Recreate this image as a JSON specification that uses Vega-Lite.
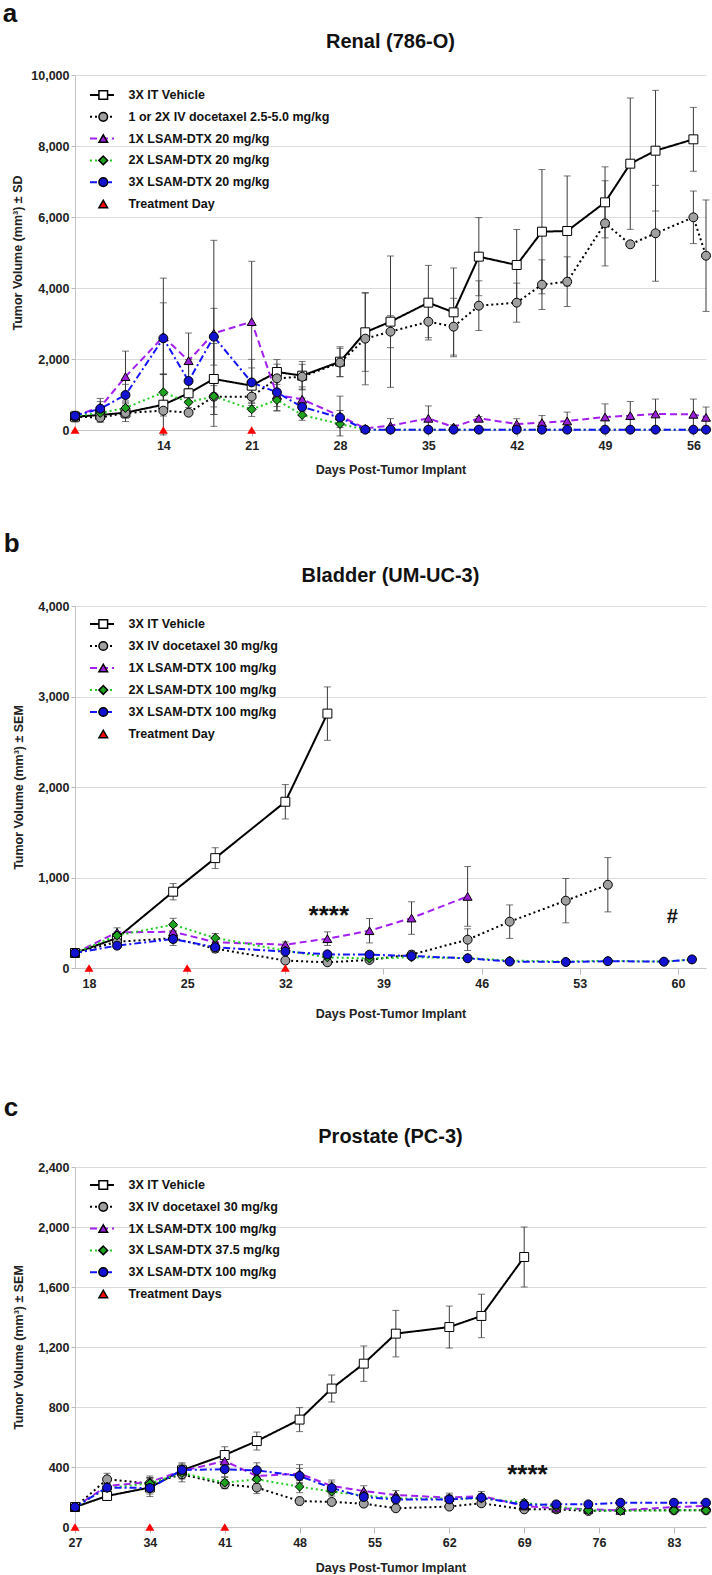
{
  "$schema": "https://vega.github.io/schema/vega-lite/v6.json",
  "padding": {"left": 2, "top": 1, "right": 0, "bottom": 0},
  "background": "white",
  "config": {
    "font": "Liberation Sans",
    "view": {"stroke": null},
    "title": {"font": "Liberation Sans", "fontSize": 20, "fontWeight": "bold", "color": "#111"},
    "axis": {"labelFont": "Liberation Sans", "labelFontWeight": "bold", "labelFontSize": 12.5, "labelColor": "#222", "titleFont": "Liberation Sans", "titleFontWeight": "bold", "titleFontSize": 12.5, "titleColor": "#222", "domainColor": "#c4c4c4", "tickColor": "#b8b8b8", "gridColor": "#dcdcdc", "labelFlush": false, "labelOverlap": false},
    "axisY": {"grid": true, "tickSize": 4, "labelPadding": 2},
    "axisX": {"grid": false, "tickSize": 6, "labelPadding": 3},
    "legend": {"labelFont": "Liberation Sans", "labelFontWeight": "bold", "labelFontSize": 12.5, "labelColor": "#111", "labelLimit": 400}
  },
  "datasets": {
    "a": [
      {"s":"V","d":7,"v":375,"e":150},{"s":"V","d":9,"v":423,"e":200},{"s":"V","d":11,"v":488,"e":250},{"s":"V","d":14,"v":713,"e":850},{"s":"V","d":16,"v":1033,"e":400},{"s":"V","d":18,"v":1437,"e":1000},{"s":"V","d":21,"v":1249,"e":500},{"s":"V","d":23,"v":1634,"e":350},{"s":"V","d":25,"v":1531,"e":400},{"s":"V","d":28,"v":1925,"e":420},{"s":"V","d":30,"v":2752,"e":1100},{"s":"V","d":32,"v":3052,"e":1850},{"s":"V","d":35,"v":3587,"e":1050},{"s":"V","d":37,"v":3314,"e":1250},{"s":"V","d":39,"v":4883,"e":1100},{"s":"V","d":42,"v":4648,"e":1000},{"s":"V","d":44,"v":5587,"e":1750},{"s":"V","d":46,"v":5606,"e":1550},{"s":"V","d":49,"v":6413,"e":1000},{"s":"V","d":51,"v":7502,"e":1850},{"s":"V","d":53,"v":7868,"e":1700},{"s":"V","d":56,"v":8188,"e":900},
      {"s":"D","d":7,"v":375,"e":100},{"s":"D","d":9,"v":350,"e":120},{"s":"D","d":11,"v":480,"e":150},{"s":"D","d":14,"v":544,"e":150},{"s":"D","d":16,"v":488},{"s":"D","d":18,"v":939,"e":500},{"s":"D","d":21,"v":939,"e":400},{"s":"D","d":23,"v":1455,"e":400},{"s":"D","d":25,"v":1500,"e":350},{"s":"D","d":28,"v":1900,"e":400},{"s":"D","d":30,"v":2573,"e":1300},{"s":"D","d":32,"v":2770,"e":450},{"s":"D","d":35,"v":3052,"e":450},{"s":"D","d":37,"v":2911,"e":800},{"s":"D","d":39,"v":3502,"e":700},{"s":"D","d":42,"v":3587,"e":550},{"s":"D","d":44,"v":4094,"e":700},{"s":"D","d":46,"v":4178,"e":700},{"s":"D","d":49,"v":5822,"e":1200},{"s":"D","d":51,"v":5231},{"s":"D","d":53,"v":5541,"e":1350},{"s":"D","d":56,"v":5991,"e":740},{"s":"D","d":57,"v":4910,"e":1570},
      {"s":"L1","d":7,"v":400,"e":100},{"s":"L1","d":9,"v":639,"e":250},{"s":"L1","d":11,"v":1502,"e":720},{"s":"L1","d":14,"v":2628,"e":1650},{"s":"L1","d":16,"v":1952,"e":780},{"s":"L1","d":18,"v":2723,"e":2620},{"s":"L1","d":21,"v":3052,"e":1700},{"s":"L1","d":23,"v":986,"e":450},{"s":"L1","d":25,"v":865,"e":350},{"s":"L1","d":28,"v":394,"e":560},{"s":"L1","d":30,"v":47,"e":50},{"s":"L1","d":32,"v":122,"e":200},{"s":"L1","d":35,"v":329,"e":350},{"s":"L1","d":37,"v":85,"e":60},{"s":"L1","d":39,"v":329,"e":50},{"s":"L1","d":42,"v":169,"e":150},{"s":"L1","d":44,"v":207,"e":200},{"s":"L1","d":46,"v":254,"e":250},{"s":"L1","d":49,"v":366,"e":370},{"s":"L1","d":51,"v":404,"e":400},{"s":"L1","d":53,"v":451,"e":420},{"s":"L1","d":56,"v":441,"e":430},{"s":"L1","d":57,"v":357,"e":290},
      {"s":"L2","d":7,"v":400,"e":100},{"s":"L2","d":9,"v":480,"e":150},{"s":"L2","d":11,"v":620,"e":200},{"s":"L2","d":14,"v":1061,"e":500},{"s":"L2","d":16,"v":780,"e":250},{"s":"L2","d":18,"v":950,"e":300},{"s":"L2","d":21,"v":582,"e":200},{"s":"L2","d":23,"v":845,"e":300},{"s":"L2","d":25,"v":423,"e":150},{"s":"L2","d":28,"v":169,"e":100},{"s":"L2","d":30,"v":10},{"s":"L2","d":32,"v":10},{"s":"L2","d":35,"v":10},{"s":"L2","d":37,"v":10},{"s":"L2","d":39,"v":10},{"s":"L2","d":42,"v":10},{"s":"L2","d":44,"v":10},{"s":"L2","d":46,"v":10},{"s":"L2","d":49,"v":10},{"s":"L2","d":51,"v":10},{"s":"L2","d":53,"v":10},{"s":"L2","d":56,"v":10},{"s":"L2","d":57,"v":10},
      {"s":"L3","d":7,"v":400,"e":100},{"s":"L3","d":9,"v":600,"e":200},{"s":"L3","d":11,"v":986,"e":300},{"s":"L3","d":14,"v":2583,"e":1000},{"s":"L3","d":16,"v":1380,"e":600},{"s":"L3","d":18,"v":2628,"e":800},{"s":"L3","d":21,"v":1340,"e":650},{"s":"L3","d":23,"v":1061,"e":400},{"s":"L3","d":25,"v":648,"e":250},{"s":"L3","d":28,"v":350,"e":200},{"s":"L3","d":30,"v":10},{"s":"L3","d":32,"v":10},{"s":"L3","d":35,"v":10},{"s":"L3","d":37,"v":10},{"s":"L3","d":39,"v":10},{"s":"L3","d":42,"v":10},{"s":"L3","d":44,"v":10},{"s":"L3","d":46,"v":10},{"s":"L3","d":49,"v":10},{"s":"L3","d":51,"v":10},{"s":"L3","d":53,"v":10},{"s":"L3","d":56,"v":10},{"s":"L3","d":57,"v":10},
      {"s":"T","d":7,"v":0},{"s":"T","d":14,"v":0},{"s":"T","d":21,"v":0}
    ],
    "b": [
      {"s":"V","d":17,"v":166,"e":15},{"s":"V","d":20,"v":331,"e":60},{"s":"V","d":24,"v":843,"e":90},{"s":"V","d":27,"v":1214,"e":115},{"s":"V","d":32,"v":1837,"e":190},{"s":"V","d":35,"v":2811,"e":295},
      {"s":"D","d":17,"v":166,"e":15},{"s":"D","d":20,"v":290,"e":40},{"s":"D","d":24,"v":329,"e":80},{"s":"D","d":27,"v":214,"e":40},{"s":"D","d":32,"v":82,"e":20},{"s":"D","d":35,"v":63,"e":15},{"s":"D","d":38,"v":89,"e":20},{"s":"D","d":41,"v":148,"e":40},{"s":"D","d":45,"v":313,"e":120},{"s":"D","d":48,"v":512,"e":185},{"s":"D","d":52,"v":744,"e":245},{"s":"D","d":55,"v":920,"e":300},
      {"s":"L1","d":17,"v":166,"e":15},{"s":"L1","d":20,"v":394,"e":50},{"s":"L1","d":24,"v":401,"e":60},{"s":"L1","d":27,"v":284,"e":40},{"s":"L1","d":32,"v":258,"e":30},{"s":"L1","d":35,"v":324,"e":75},{"s":"L1","d":38,"v":412,"e":135},{"s":"L1","d":41,"v":552,"e":180},{"s":"L1","d":45,"v":791,"e":330},
      {"s":"L2","d":17,"v":166,"e":15},{"s":"L2","d":20,"v":360,"e":40},{"s":"L2","d":24,"v":479,"e":70},{"s":"L2","d":27,"v":331,"e":50},{"s":"L2","d":32,"v":192,"e":30},{"s":"L2","d":35,"v":118,"e":20},{"s":"L2","d":38,"v":105,"e":20},{"s":"L2","d":41,"v":118,"e":20},{"s":"L2","d":45,"v":110,"e":20},{"s":"L2","d":48,"v":82,"e":15},{"s":"L2","d":52,"v":71,"e":12},{"s":"L2","d":55,"v":80,"e":12},{"s":"L2","d":59,"v":70,"e":25},{"s":"L2","d":61,"v":93,"e":35},
      {"s":"L3","d":17,"v":166},{"s":"L3","d":20,"v":247,"e":30},{"s":"L3","d":24,"v":320,"e":40},{"s":"L3","d":27,"v":229,"e":30},{"s":"L3","d":32,"v":181,"e":25},{"s":"L3","d":35,"v":151,"e":20},{"s":"L3","d":38,"v":148,"e":20},{"s":"L3","d":41,"v":132,"e":20},{"s":"L3","d":45,"v":107,"e":15},{"s":"L3","d":48,"v":71,"e":12},{"s":"L3","d":52,"v":66,"e":10},{"s":"L3","d":55,"v":75,"e":12},{"s":"L3","d":59,"v":70,"e":20},{"s":"L3","d":61,"v":95,"e":30},
      {"s":"T","d":18,"v":0},{"s":"T","d":25,"v":0},{"s":"T","d":32,"v":0}
    ],
    "c": [
      {"s":"V","d":27,"v":133,"e":10},{"s":"V","d":30,"v":207,"e":30},{"s":"V","d":34,"v":263,"e":60},{"s":"V","d":37,"v":378,"e":50},{"s":"V","d":41,"v":480,"e":55},{"s":"V","d":44,"v":573,"e":60},{"s":"V","d":48,"v":716,"e":80},{"s":"V","d":51,"v":923,"e":90},{"s":"V","d":54,"v":1089,"e":118},{"s":"V","d":57,"v":1289,"e":155},{"s":"V","d":62,"v":1333,"e":140},{"s":"V","d":65,"v":1407,"e":145},{"s":"V","d":69,"v":1800,"e":200},
      {"s":"D","d":27,"v":133},{"s":"D","d":30,"v":318,"e":40},{"s":"D","d":34,"v":290,"e":40},{"s":"D","d":37,"v":351,"e":50},{"s":"D","d":41,"v":285,"e":30},{"s":"D","d":44,"v":263,"e":40},{"s":"D","d":48,"v":173,"e":25},{"s":"D","d":51,"v":167,"e":20},{"s":"D","d":54,"v":156,"e":20},{"s":"D","d":57,"v":125,"e":15},{"s":"D","d":62,"v":136,"e":15},{"s":"D","d":65,"v":158,"e":20},{"s":"D","d":69,"v":118,"e":15},{"s":"D","d":72,"v":118,"e":12},{"s":"D","d":75,"v":107,"e":12},{"s":"D","d":78,"v":111,"e":12},{"s":"D","d":83,"v":111,"e":12},{"s":"D","d":86,"v":111,"e":12},
      {"s":"L1","d":27,"v":133},{"s":"L1","d":30,"v":273,"e":40},{"s":"L1","d":34,"v":300,"e":40},{"s":"L1","d":37,"v":373,"e":40},{"s":"L1","d":41,"v":440,"e":50},{"s":"L1","d":44,"v":340,"e":50},{"s":"L1","d":48,"v":356,"e":60},{"s":"L1","d":51,"v":273,"e":40},{"s":"L1","d":54,"v":240,"e":35},{"s":"L1","d":57,"v":213,"e":30},{"s":"L1","d":62,"v":196,"e":30},{"s":"L1","d":65,"v":207,"e":30},{"s":"L1","d":69,"v":140,"e":30},{"s":"L1","d":72,"v":125,"e":15},{"s":"L1","d":75,"v":118,"e":12},{"s":"L1","d":78,"v":111,"e":12},{"s":"L1","d":83,"v":133,"e":15},{"s":"L1","d":86,"v":140,"e":15},
      {"s":"L2","d":27,"v":133},{"s":"L2","d":30,"v":260,"e":30},{"s":"L2","d":34,"v":290,"e":40},{"s":"L2","d":37,"v":360,"e":40},{"s":"L2","d":41,"v":296,"e":35},{"s":"L2","d":44,"v":318,"e":40},{"s":"L2","d":48,"v":269,"e":40},{"s":"L2","d":51,"v":236,"e":30},{"s":"L2","d":54,"v":210,"e":30},{"s":"L2","d":57,"v":191,"e":25},{"s":"L2","d":62,"v":189,"e":25},{"s":"L2","d":65,"v":191,"e":25},{"s":"L2","d":69,"v":162,"e":20},{"s":"L2","d":72,"v":136,"e":15},{"s":"L2","d":75,"v":111},{"s":"L2","d":78,"v":107},{"s":"L2","d":83,"v":111},{"s":"L2","d":86,"v":111},
      {"s":"L3","d":27,"v":133},{"s":"L3","d":30,"v":263,"e":30},{"s":"L3","d":34,"v":260,"e":40},{"s":"L3","d":37,"v":380,"e":40},{"s":"L3","d":41,"v":385,"e":50},{"s":"L3","d":44,"v":378,"e":50},{"s":"L3","d":48,"v":340,"e":50},{"s":"L3","d":51,"v":260,"e":40},{"s":"L3","d":54,"v":200,"e":30},{"s":"L3","d":57,"v":184,"e":25},{"s":"L3","d":62,"v":184,"e":25},{"s":"L3","d":65,"v":196,"e":25},{"s":"L3","d":69,"v":147,"e":20},{"s":"L3","d":72,"v":151,"e":15},{"s":"L3","d":75,"v":151,"e":15},{"s":"L3","d":78,"v":162,"e":15},{"s":"L3","d":83,"v":162,"e":15},{"s":"L3","d":86,"v":162,"e":15},
      {"s":"T","d":27,"v":0},{"s":"T","d":34,"v":0},{"s":"T","d":41,"v":0}
    ],
    "annB": [{"d":35.1,"v":571,"t":"****"},{"d":59.6,"v":560,"t":"#"}],
    "annC": [{"d":69.3,"v":345,"t":"****"}]
  },
  "resolve": {"scale": {"fill":"independent","shape":"independent","stroke":"independent","strokeDash":"independent"}, "legend": {"fill":"independent","shape":"independent","stroke":"independent","strokeDash":"independent"}},
  "spacing": 55,
  "vconcat": [
    {
      "title": {"text": "a", "anchor": "start", "fontSize": 26, "frame": "bounds", "offset": 5, "dx": -9},
      "resolve": {"scale": {"fill":"independent","shape":"independent","stroke":"independent","strokeDash":"independent"}, "legend": {"fill":"independent","shape":"independent","stroke":"independent","strokeDash":"independent"}},
      "vconcat": [
        {
          "width": 631, "height": 355,
          "title": {"text": "Renal (786-O)", "offset": 17},
          "data": {"name": "a"},
          "encoding": {
            "x": {"field": "d", "type": "quantitative", "scale": {"domain": [7, 57], "nice": false, "zero": false}, "axis": {"values": [14,21,28,35,42,49,56], "title": "Days Post-Tumor Implant", "titlePadding": 12}},
            "y": {"field": "v", "type": "quantitative", "scale": {"domain": [0, 10000], "nice": false}, "axis": {"values": [0,2000,4000,6000,8000,10000], "format": ",.0f", "title": "Tumor Volume (mm³) ± SD", "titlePadding": 6}}
          },
          "layer": [
            {"transform": [{"filter": "isValid(datum.e) && datum.s !== 'T'"}], "mark": {"type": "errorbar", "ticks": true, "size": 7, "thickness": 1, "color": "#3a3a3a"}, "encoding": {"yError": {"field": "e"}}},
            {"transform": [{"filter": "datum.s !== 'T'"}], "mark": {"type": "line", "strokeWidth": 2},
             "encoding": {
               "stroke": {"field": "s", "type": "nominal", "scale": {"domain": ["V","D","L1","L2","L3"], "range": ["#000000","#000000","#a21ff0","#22cc22","#1414ff"]}, "legend": {"orient": "none", "legendX": 14, "legendY": 12, "title": null, "symbolType": "stroke", "symbolSize": 576, "symbolStrokeWidth": 2, "labelExpr": "''", "clipHeight": 16, "rowPadding": 5.8, "padding": 0}},
               "strokeDash": {"field": "s", "type": "nominal", "scale": {"domain": ["V","D","L1","L2","L3"], "range": [[1,0],[2,3],[7,4],[2,3],[7,3,2,3]]}, "legend": {"orient": "none", "legendX": 14, "legendY": 12, "title": null, "symbolType": "stroke", "symbolSize": 576, "symbolStrokeWidth": 2, "labelExpr": "''", "clipHeight": 16, "rowPadding": 5.8, "padding": 0}}
             }},
            {"mark": {"type": "point", "filled": true, "opacity": 1, "size": 80, "strokeWidth": 1},
             "encoding": {
               "stroke": {"condition": {"test": "datum.s === 'T'", "value": null}, "value": "#000000"},
               "fill": {"field": "s", "type": "nominal", "scale": {"domain": ["V","D","L1","L2","L3","T"], "range": ["#ffffff","#a0a0a0","#9a1fd6","#1ea31e","#1212d0","#ff0000"]}, "legend": {"orient": "none", "legendX": 22, "legendY": 12, "title": null, "symbolSize": 75, "labelOffset": 19, "clipHeight": 16, "rowPadding": 5.8, "padding": 0, "encode": {"symbols": {"update": {"stroke": {"signal": "datum.value === 'T' ? 'transparent' : '#000000'"}, "strokeWidth": {"value": 1}}}}, "labelExpr": "{'V':'3X IT Vehicle','D':'1 or 2X IV docetaxel 2.5-5.0 mg/kg','L1':'1X LSAM-DTX 20 mg/kg','L2':'2X LSAM-DTX 20 mg/kg','L3':'3X LSAM-DTX 20 mg/kg','T':'Treatment Day'}[datum.value]"}},
               "shape": {"field": "s", "type": "nominal", "scale": {"domain": ["V","D","L1","L2","L3","T"], "range": ["square","circle","triangle-up","diamond","circle","triangle-up"]}, "legend": {"orient": "none", "legendX": 22, "legendY": 12, "title": null, "symbolSize": 75, "labelOffset": 19, "clipHeight": 16, "rowPadding": 5.8, "padding": 0, "encode": {"symbols": {"update": {"stroke": {"signal": "datum.value === 'T' ? 'transparent' : '#000000'"}, "strokeWidth": {"value": 1}}}}, "labelExpr": "{'V':'3X IT Vehicle','D':'1 or 2X IV docetaxel 2.5-5.0 mg/kg','L1':'1X LSAM-DTX 20 mg/kg','L2':'2X LSAM-DTX 20 mg/kg','L3':'3X LSAM-DTX 20 mg/kg','T':'Treatment Day'}[datum.value]"}}
             }}
          ]
        }
      ]
    },
    {
      "resolve": {"scale": {"fill":"independent","shape":"independent","stroke":"independent","strokeDash":"independent"}, "legend": {"fill":"independent","shape":"independent","stroke":"independent","strokeDash":"independent"}},
      "spacing": 75,
      "vconcat": [
        {
          "title": {"text": "b", "anchor": "start", "fontSize": 26, "frame": "bounds", "offset": 9, "dx": -9},
          "resolve": {"scale": {"fill":"independent","shape":"independent","stroke":"independent","strokeDash":"independent"}, "legend": {"fill":"independent","shape":"independent","stroke":"independent","strokeDash":"independent"}},
          "vconcat": [
            {
              "width": 631, "height": 362,
              "title": {"text": "Bladder (UM-UC-3)", "offset": 14},
              "data": {"name": "b"},
              "encoding": {
                "x": {"field": "d", "type": "quantitative", "scale": {"domain": [17, 62], "nice": false, "zero": false}, "axis": {"values": [18,25,32,39,46,53,60], "title": "Days Post-Tumor Implant", "titlePadding": 18}},
                "y": {"field": "v", "type": "quantitative", "scale": {"domain": [0, 4000], "nice": false}, "axis": {"values": [0,1000,2000,3000,4000], "format": ",.0f", "title": "Tumor Volume (mm³) ± SEM", "titlePadding": 12}}
              },
              "layer": [
                {"transform": [{"filter": "isValid(datum.e) && datum.s !== 'T'"}], "mark": {"type": "errorbar", "ticks": true, "size": 7, "thickness": 1, "color": "#3a3a3a"}, "encoding": {"yError": {"field": "e"}}},
                {"transform": [{"filter": "datum.s !== 'T'"}], "mark": {"type": "line", "strokeWidth": 2},
                 "encoding": {
                   "stroke": {"field": "s", "type": "nominal", "scale": {"domain": ["V","D","L1","L2","L3"], "range": ["#000000","#000000","#a21ff0","#22cc22","#1414ff"]}, "legend": {"orient": "none", "legendX": 14, "legendY": 10, "title": null, "symbolType": "stroke", "symbolSize": 576, "symbolStrokeWidth": 2, "labelExpr": "''", "clipHeight": 16, "rowPadding": 6, "padding": 0}},
                   "strokeDash": {"field": "s", "type": "nominal", "scale": {"domain": ["V","D","L1","L2","L3"], "range": [[1,0],[2,3],[7,4],[2,3],[7,3,2,3]]}, "legend": {"orient": "none", "legendX": 14, "legendY": 10, "title": null, "symbolType": "stroke", "symbolSize": 576, "symbolStrokeWidth": 2, "labelExpr": "''", "clipHeight": 16, "rowPadding": 6, "padding": 0}}
                 }},
                {"mark": {"type": "point", "filled": true, "opacity": 1, "size": 80, "strokeWidth": 1},
                 "encoding": {
                   "stroke": {"condition": {"test": "datum.s === 'T'", "value": null}, "value": "#000000"},
                   "fill": {"field": "s", "type": "nominal", "scale": {"domain": ["V","D","L1","L2","L3","T"], "range": ["#ffffff","#a0a0a0","#9a1fd6","#1ea31e","#1212d0","#ff0000"]}, "legend": {"orient": "none", "legendX": 22, "legendY": 10, "title": null, "symbolSize": 75, "labelOffset": 19, "clipHeight": 16, "rowPadding": 6, "padding": 0, "encode": {"symbols": {"update": {"stroke": {"signal": "datum.value === 'T' ? 'transparent' : '#000000'"}, "strokeWidth": {"value": 1}}}}, "labelExpr": "{'V':'3X IT Vehicle','D':'3X IV docetaxel 30 mg/kg','L1':'1X LSAM-DTX 100 mg/kg','L2':'2X LSAM-DTX 100 mg/kg','L3':'3X LSAM-DTX 100 mg/kg','T':'Treatment Day'}[datum.value]"}},
                   "shape": {"field": "s", "type": "nominal", "scale": {"domain": ["V","D","L1","L2","L3","T"], "range": ["square","circle","triangle-up","diamond","circle","triangle-up"]}, "legend": {"orient": "none", "legendX": 22, "legendY": 10, "title": null, "symbolSize": 75, "labelOffset": 19, "clipHeight": 16, "rowPadding": 6, "padding": 0, "encode": {"symbols": {"update": {"stroke": {"signal": "datum.value === 'T' ? 'transparent' : '#000000'"}, "strokeWidth": {"value": 1}}}}, "labelExpr": "{'V':'3X IT Vehicle','D':'3X IV docetaxel 30 mg/kg','L1':'1X LSAM-DTX 100 mg/kg','L2':'2X LSAM-DTX 100 mg/kg','L3':'3X LSAM-DTX 100 mg/kg','T':'Treatment Day'}[datum.value]"}}
                 }},
                {"data": {"name": "annB"}, "transform": [{"filter": "datum.t === '****'"}], "mark": {"type": "text", "fontSize": 26, "fontWeight": "bold", "font": "Liberation Sans", "color": "#111", "baseline": "middle"}, "encoding": {"text": {"field": "t"}}},
                {"data": {"name": "annB"}, "transform": [{"filter": "datum.t === '#'"}], "mark": {"type": "text", "fontSize": 20, "fontWeight": "bold", "font": "Liberation Sans", "color": "#111", "baseline": "middle"}, "encoding": {"text": {"field": "t"}}}
              ]
            }
          ]
        },
        {
          "title": {"text": "c", "anchor": "start", "fontSize": 26, "frame": "bounds", "offset": 6, "dx": -9},
          "resolve": {"scale": {"fill":"independent","shape":"independent","stroke":"independent","strokeDash":"independent"}, "legend": {"fill":"independent","shape":"independent","stroke":"independent","strokeDash":"independent"}},
          "vconcat": [
            {
              "width": 631, "height": 360,
              "title": {"text": "Prostate (PC-3)", "offset": 14},
              "data": {"name": "c"},
              "encoding": {
                "x": {"field": "d", "type": "quantitative", "scale": {"domain": [27, 86], "nice": false, "zero": false}, "axis": {"values": [27,34,41,48,55,62,69,76,83], "title": "Days Post-Tumor Implant", "titlePadding": 13}},
                "y": {"field": "v", "type": "quantitative", "scale": {"domain": [0, 2400], "nice": false}, "axis": {"values": [0,400,800,1200,1600,2000,2400], "format": ",.0f", "title": "Tumor Volume (mm³) ± SEM", "titlePadding": 12}}
              },
              "layer": [
                {"transform": [{"filter": "isValid(datum.e) && datum.s !== 'T'"}], "mark": {"type": "errorbar", "ticks": true, "size": 7, "thickness": 1, "color": "#3a3a3a"}, "encoding": {"yError": {"field": "e"}}},
                {"transform": [{"filter": "datum.s !== 'T'"}], "mark": {"type": "line", "strokeWidth": 2},
                 "encoding": {
                   "stroke": {"field": "s", "type": "nominal", "scale": {"domain": ["V","D","L1","L2","L3"], "range": ["#000000","#000000","#a21ff0","#22cc22","#1414ff"]}, "legend": {"orient": "none", "legendX": 14, "legendY": 10, "title": null, "symbolType": "stroke", "symbolSize": 576, "symbolStrokeWidth": 2, "labelExpr": "''", "clipHeight": 16, "rowPadding": 5.8, "padding": 0}},
                   "strokeDash": {"field": "s", "type": "nominal", "scale": {"domain": ["V","D","L1","L2","L3"], "range": [[1,0],[2,3],[7,4],[2,3],[7,3,2,3]]}, "legend": {"orient": "none", "legendX": 14, "legendY": 10, "title": null, "symbolType": "stroke", "symbolSize": 576, "symbolStrokeWidth": 2, "labelExpr": "''", "clipHeight": 16, "rowPadding": 5.8, "padding": 0}}
                 }},
                {"mark": {"type": "point", "filled": true, "opacity": 1, "size": 80, "strokeWidth": 1},
                 "encoding": {
                   "stroke": {"condition": {"test": "datum.s === 'T'", "value": null}, "value": "#000000"},
                   "fill": {"field": "s", "type": "nominal", "scale": {"domain": ["V","D","L1","L2","L3","T"], "range": ["#ffffff","#a0a0a0","#9a1fd6","#1ea31e","#1212d0","#ff0000"]}, "legend": {"orient": "none", "legendX": 22, "legendY": 10, "title": null, "symbolSize": 75, "labelOffset": 19, "clipHeight": 16, "rowPadding": 5.8, "padding": 0, "encode": {"symbols": {"update": {"stroke": {"signal": "datum.value === 'T' ? 'transparent' : '#000000'"}, "strokeWidth": {"value": 1}}}}, "labelExpr": "{'V':'3X IT Vehicle','D':'3X IV docetaxel 30 mg/kg','L1':'1X LSAM-DTX 100 mg/kg','L2':'3X LSAM-DTX 37.5 mg/kg','L3':'3X LSAM-DTX 100 mg/kg','T':'Treatment Days'}[datum.value]"}},
                   "shape": {"field": "s", "type": "nominal", "scale": {"domain": ["V","D","L1","L2","L3","T"], "range": ["square","circle","triangle-up","diamond","circle","triangle-up"]}, "legend": {"orient": "none", "legendX": 22, "legendY": 10, "title": null, "symbolSize": 75, "labelOffset": 19, "clipHeight": 16, "rowPadding": 5.8, "padding": 0, "encode": {"symbols": {"update": {"stroke": {"signal": "datum.value === 'T' ? 'transparent' : '#000000'"}, "strokeWidth": {"value": 1}}}}, "labelExpr": "{'V':'3X IT Vehicle','D':'3X IV docetaxel 30 mg/kg','L1':'1X LSAM-DTX 100 mg/kg','L2':'3X LSAM-DTX 37.5 mg/kg','L3':'3X LSAM-DTX 100 mg/kg','T':'Treatment Days'}[datum.value]"}}
                 }},
                {"data": {"name": "annC"}, "mark": {"type": "text", "fontSize": 26, "fontWeight": "bold", "font": "Liberation Sans", "color": "#111", "baseline": "middle"}, "encoding": {"text": {"field": "t"}}}
              ]
            }
          ]
        }
      ]
    }
  ]
}
